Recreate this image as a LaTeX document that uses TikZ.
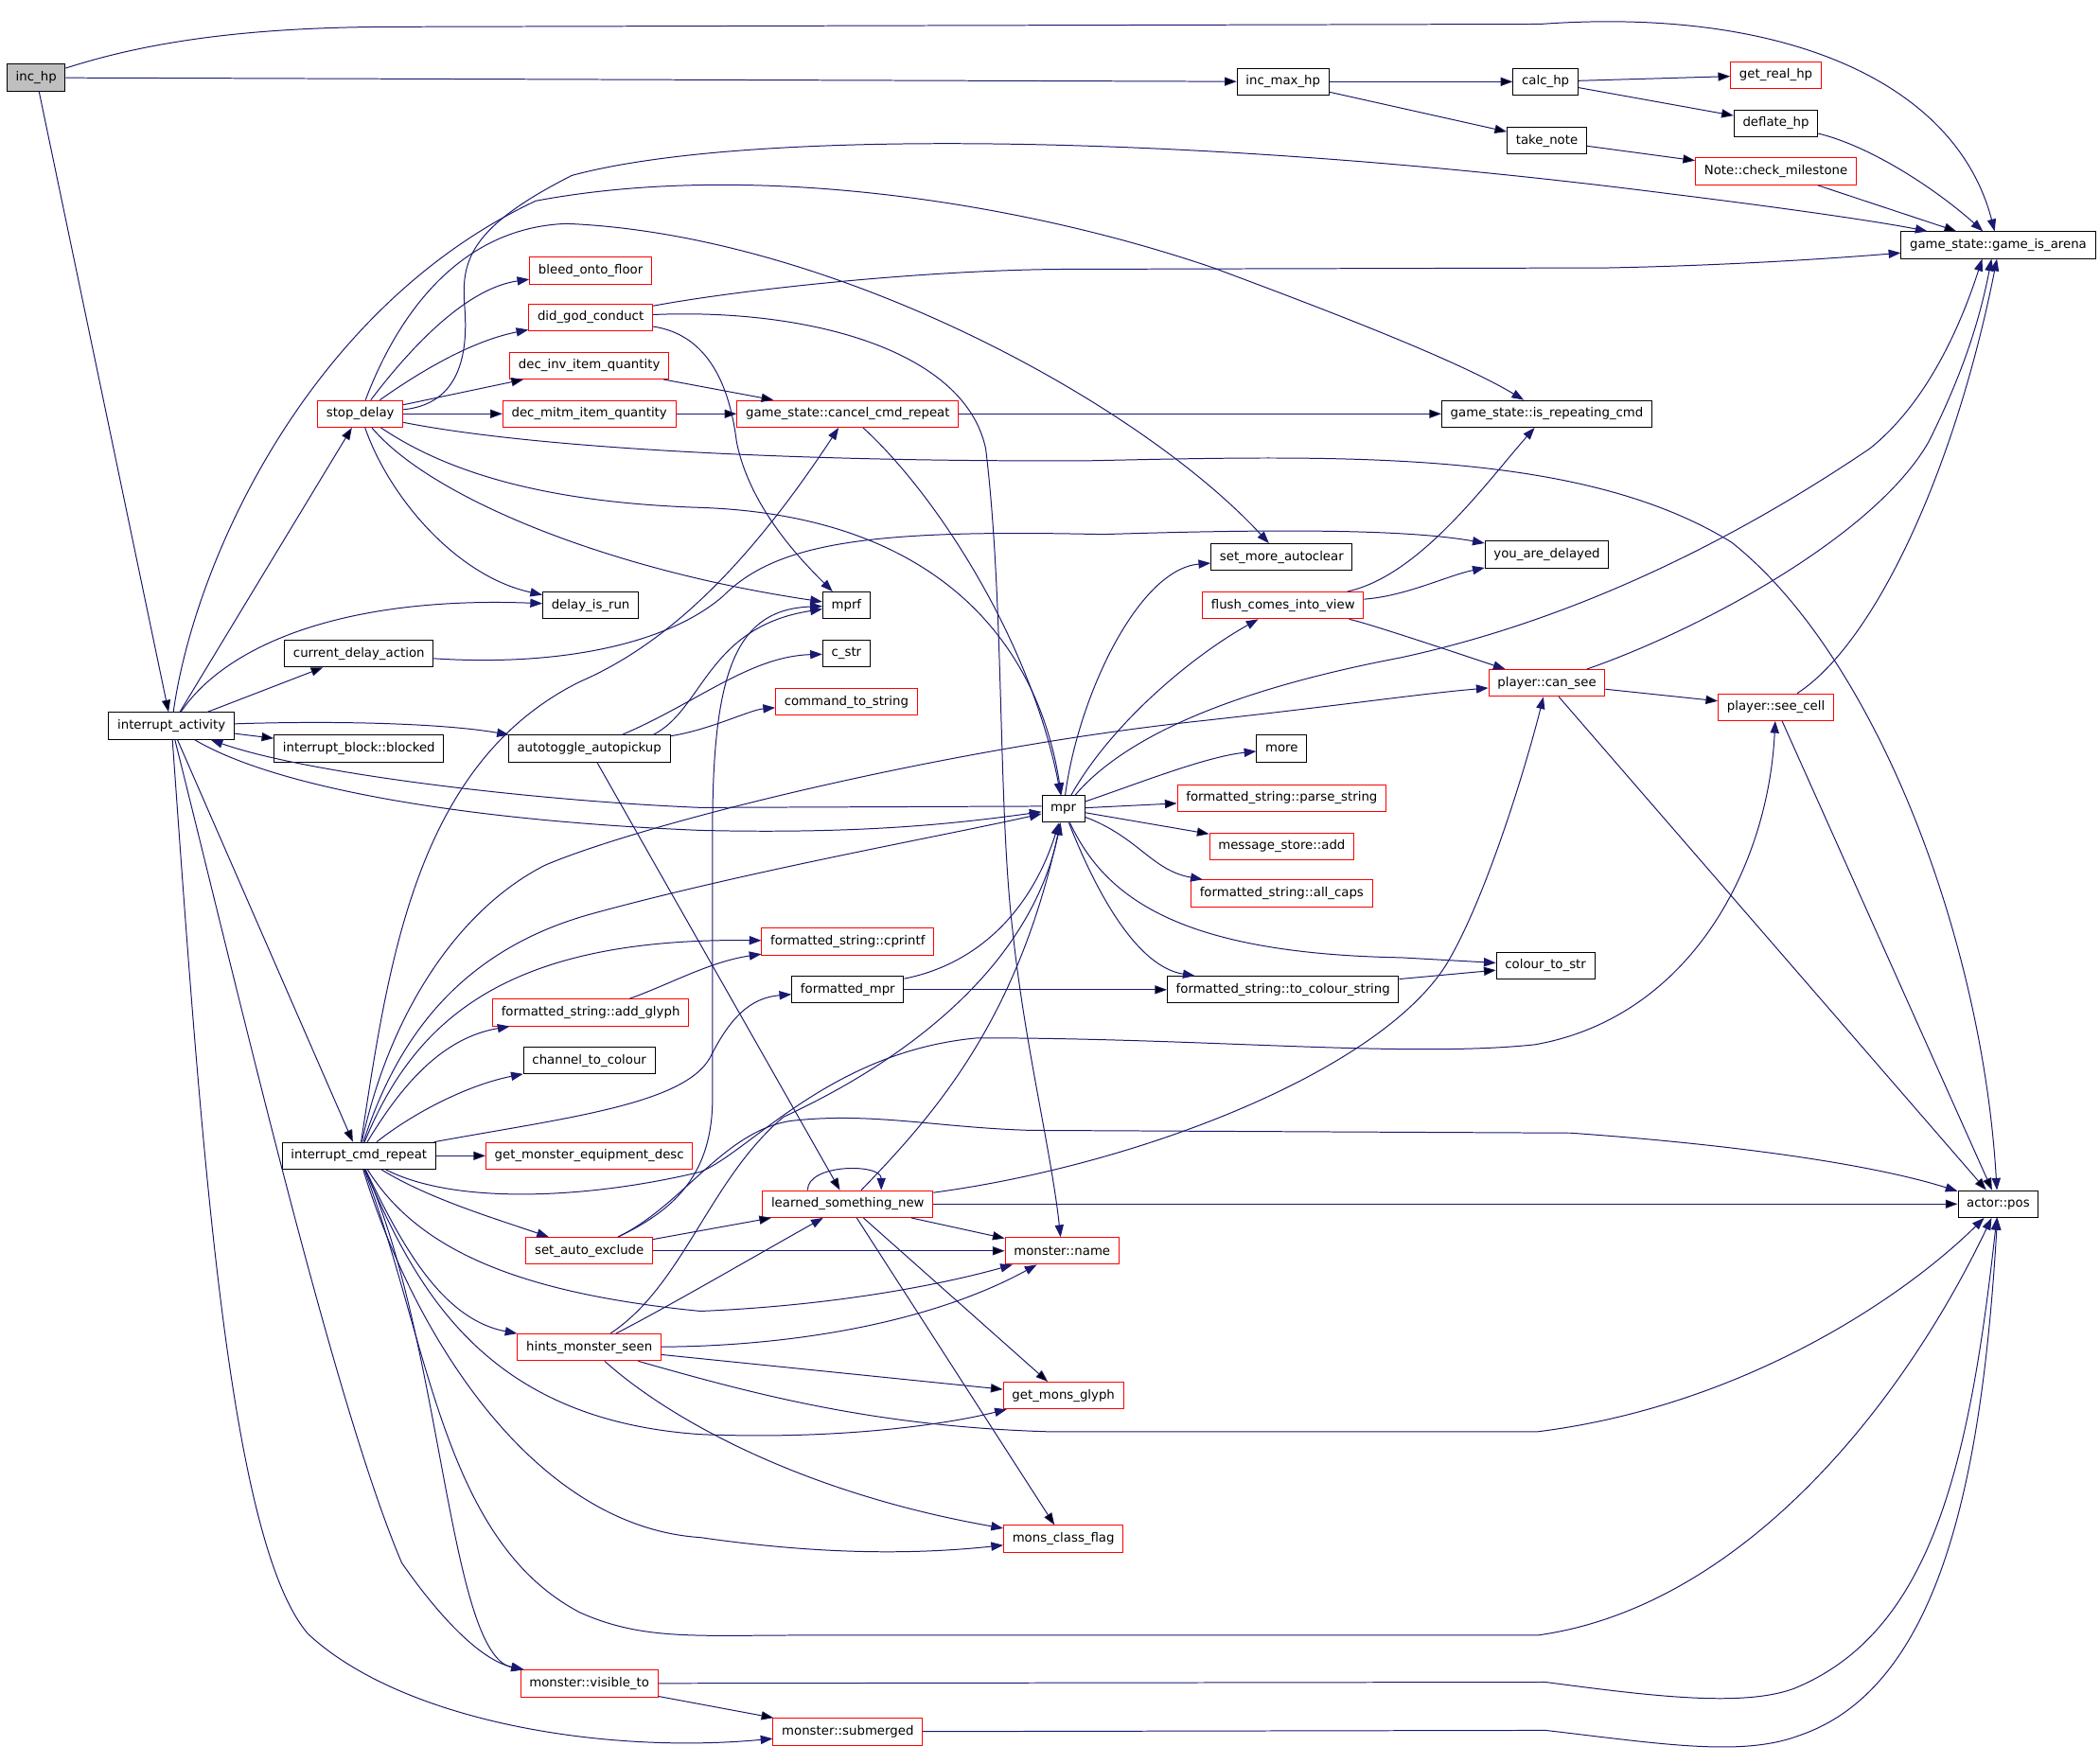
\documentclass[tikz,border=0pt]{standalone}
\usepackage{fontspec}
\setmainfont{DejaVu Sans}
\usetikzlibrary{arrows.meta}
\definecolor{callblue}{RGB}{25,25,112}

\begin{document}
\begin{tikzpicture}[x=1pt,y=-1pt,
  fn/.style={draw=black,line width=0.7pt,fill=white,font=\fontsize{9.4}{11}\selectfont,
    inner xsep=6.5pt,inner ysep=0pt,minimum height=20pt},
  fnred/.style={fn,draw=red},
  fnroot/.style={fn,fill=black!25},
  call/.style={draw=callblue,line width=0.7pt,-{Triangle[length=9pt,width=6.5pt]}}]
\useasboundingbox (0,0) rectangle (1568,1317);

\node[fnroot] (inchp) at (27,58) {inc\_hp};
\node[fn] (incmaxhp) at (958,61) {inc\_max\_hp};
\node[fn] (calchp) at (1154,61) {calc\_hp};
\node[fnred] (getrealhp) at (1326,56) {get\_real\_hp};
\node[fn] (deflatehp) at (1326,92) {deflate\_hp};
\node[fn] (takenote) at (1155,105) {take\_note};
\node[fnred] (milestone) at (1326,128) {Note::check\_milestone};
\node[fn] (arena) at (1492,183) {game\_state::game\_is\_arena};
\node[fnred] (bleed) at (441,202) {bleed\_onto\_floor};
\node[fnred] (godconduct) at (441,237) {did\_god\_conduct};
\node[fnred] (decinv) at (440,273) {dec\_inv\_item\_quantity};
\node[fnred] (stopdelay) at (269,309) {stop\_delay};
\node[fnred] (decmitm) at (440,309) {dec\_mitm\_item\_quantity};
\node[fnred] (cancelcmd) at (633,309) {game\_state::cancel\_cmd\_repeat};
\node[fn] (isrepeating) at (1155,309) {game\_state::is\_repeating\_cmd};
\node[fn] (autoclear) at (957,416) {set\_more\_autoclear};
\node[fn] (delayed) at (1155,414) {you\_are\_delayed};
\node[fn] (delayisrun) at (441,452) {delay\_is\_run};
\node[fn] (mprf) at (632,452) {mprf};
\node[fnred] (flush) at (958,452) {flush\_comes\_into\_view};
\node[fn] (curdelay) at (268,488) {current\_delay\_action};
\node[fn] (cstr) at (632,488) {c\_str};
\node[fnred] (cansee) at (1155,510) {player::can\_see};
\node[fnred] (seecell) at (1326,528) {player::see\_cell};
\node[fnred] (cmdtostr) at (632,524) {command\_to\_string};
\node[fn] (interruptact) at (128,542) {interrupt\_activity};
\node[fn] (blocked) at (268,559) {interrupt\_block::blocked};
\node[fn] (autopickup) at (440,559) {autotoggle\_autopickup};
\node[fn] (more) at (957,559) {more};
\node[fn] (mpr) at (794,604) {mpr};
\node[fnred] (parsestr) at (957,596) {formatted\_string::parse\_string};
\node[fnred] (msgadd) at (957,632) {message\_store::add};
\node[fnred] (allcaps) at (957,667) {formatted\_string::all\_caps};
\node[fnred] (cprintf) at (633,703) {formatted\_string::cprintf};
\node[fn] (colourtostr) at (1154,721) {colour\_to\_str};
\node[fn] (fmtmpr) at (633,739) {formatted\_mpr};
\node[fn] (tocolour) at (958,739) {formatted\_string::to\_colour\_string};
\node[fnred] (addglyph) at (441,756) {formatted\_string::add\_glyph};
\node[fn] (channel) at (440,792) {channel\_to\_colour};
\node[fn] (interruptcmd) at (268,863) {interrupt\_cmd\_repeat};
\node[fnred] (equipdesc) at (440,863) {get\_monster\_equipment\_desc};
\node[fnred] (learned) at (633,899) {learned\_something\_new};
\node[fn] (actorpos) at (1492,899) {actor::pos};
\node[fnred] (autoexclude) at (440,934) {set\_auto\_exclude};
\node[fnred] (monname) at (793,934) {monster::name};
\node[fnred] (hints) at (440,1006) {hints\_monster\_seen};
\node[fnred] (monsglyph) at (794,1042) {get\_mons\_glyph};
\node[fnred] (classflag) at (794,1149) {mons\_class\_flag};
\node[fnred] (visibleto) at (440,1257) {monster::visible\_to};
\node[fnred] (submerged) at (633,1293) {monster::submerged};

\path[call]
(inchp) edge (incmaxhp)
(inchp) edge (interruptact)
(incmaxhp) edge (calchp)
(incmaxhp) edge (takenote)
(calchp) edge (getrealhp)
(calchp) edge (deflatehp)
(takenote) edge (milestone)
(milestone) edge (arena)
(interruptact) edge (stopdelay)
(interruptact) edge (curdelay)
(interruptact) edge (blocked)
(interruptact) edge (interruptcmd)
(stopdelay) edge (decinv)
(stopdelay) edge (decmitm)
(decinv) edge (cancelcmd)
(decmitm) edge (cancelcmd)
(cancelcmd) edge (isrepeating)
(mpr) edge (parsestr)
(mpr) edge (msgadd)
(cansee) edge (seecell)
(cansee) edge (actorpos)
(seecell) edge (actorpos)
(interruptcmd) edge (equipdesc)
(autopickup) edge (learned)
(learned) edge (actorpos)
(learned) edge (monname)
(learned) edge (monsglyph)
(learned) edge (classflag)
(autoexclude) edge (learned)
(autoexclude) edge (monname)
(hints) edge (monsglyph)
(visibleto) edge (submerged)
(fmtmpr) edge (tocolour)
(tocolour) edge (colourtostr);

\draw[call] (inchp) .. controls (120,28) and (200,20) .. (300,20) -- (1150,18) .. controls (1330,5) and (1460,60) .. (arena);
\draw[call] (deflatehp) .. controls (1400,110) and (1450,145) .. (arena);

\draw[call] (interruptact) .. controls (145,420) and (230,230) .. (400,150) .. controls (560,120) and (760,150) .. (906,200) .. controls (1000,235) and (1090,270) .. (isrepeating);
\draw[call] (interruptact) .. controls (170,480) and (260,445) .. (delayisrun);
\draw[call] (interruptact) .. controls (250,538) and (330,540) .. (autopickup);
\draw[call] (interruptact) .. controls (200,585) and (330,612) .. (523,620) .. controls (650,623) and (720,614) .. (mpr);
\draw[call] ([yshift=2pt]mpr.west) -- (523,603) .. controls (400,598) and (230,578) .. (interruptact);
\draw[call] (interruptact) .. controls (180,750) and (250,1050) .. (300,1167) .. controls (330,1210) and (360,1240) .. (visibleto);
\draw[call] (interruptact) .. controls (150,850) and (170,1150) .. (230,1220) .. controls (300,1285) and (450,1310) .. (submerged);

\draw[call] (stopdelay) .. controls (310,255) and (350,215) .. (bleed);
\draw[call] (stopdelay) .. controls (310,280) and (350,255) .. (godconduct);
\draw[call] (stopdelay) .. controls (340,302) and (350,270) .. (347,230) .. controls (344,195) and (350,170) .. (427,131) .. controls (560,95) and (900,100) .. (1249,145) .. controls (1330,155) and (1400,165) .. (arena);
\draw[call] (stopdelay) .. controls (295,240) and (340,170) .. (423,167) .. controls (620,175) and (850,300) .. (autoclear);
\draw[call] (stopdelay) .. controls (400,335) and (600,345) .. (813,344) .. controls (1000,340) and (1180,335) .. (1293,405) .. controls (1400,490) and (1480,700) .. ([xshift=-1pt]actorpos.north);
\draw[call] (stopdelay) .. controls (330,350) and (400,375) .. (523,379) .. controls (700,385) and (775,480) .. (mpr);
\draw[call] (stopdelay) .. controls (320,370) and (450,425) .. (mprf);
\draw[call] (stopdelay) .. controls (290,370) and (340,430) .. (delayisrun);

\draw[call] (godconduct) .. controls (560,215) and (700,201) .. (800,201) -- (1200,200) .. controls (1300,198) and (1380,192) .. (arena);
\draw[call] (godconduct) .. controls (600,230) and (720,260) .. (736,335) .. controls (750,450) and (745,600) .. (756,694) .. controls (765,780) and (785,860) .. (monname);
\draw[call] (godconduct) .. controls (530,250) and (545,290) .. (550,330) .. controls (560,380) and (600,420) .. (mprf);
\draw[call] (cancelcmd) .. controls (700,370) and (770,480) .. (mpr);

\draw[call] (interruptcmd) .. controls (290,720) and (310,570) .. (433,509) .. controls (500,480) and (560,420) .. (cancelcmd);
\draw[call] (interruptcmd) .. controls (290,760) and (340,680) .. (407,646) .. controls (480,615) and (700,560) .. (890,539) .. controls (1000,527) and (1060,518) .. (cansee);
\draw[call] (interruptcmd) .. controls (295,780) and (340,710) .. (443,682) .. controls (560,650) and (700,625) .. (mpr);
\draw[call] (interruptcmd) .. controls (310,760) and (380,700) .. (cprintf);
\draw[call] (interruptcmd) .. controls (300,810) and (330,775) .. (addglyph);
\draw[call] (interruptcmd) .. controls (310,830) and (350,810) .. (channel);
\draw[call] (interruptcmd) .. controls (420,835) and (510,825) .. (530,790) .. controls (545,760) and (560,745) .. (fmtmpr);
\draw[call] (interruptcmd) .. controls (340,900) and (440,895) .. (523,875) .. controls (560,860) and (620,785) .. (730,775) .. controls (900,775) and (1050,790) .. (1146,780) .. controls (1260,760) and (1320,650) .. (seecell);
\draw[call] (interruptcmd) .. controls (320,895) and (370,910) .. (autoexclude);
\draw[call] (interruptcmd) .. controls (300,930) and (330,985) .. (hints);
\draw[call] (interruptcmd) .. controls (310,930) and (380,965) .. (523,979) .. controls (620,975) and (700,960) .. (monname);
\draw[call] (interruptcmd) .. controls (310,960) and (360,1060) .. (523,1071) .. controls (620,1075) and (700,1065) .. (monsglyph);
\draw[call] (interruptcmd) .. controls (310,1000) and (400,1140) .. (523,1148) .. controls (620,1162) and (690,1160) .. (classflag);
\draw[call] (interruptcmd) .. controls (320,1000) and (330,1150) .. (433,1204) .. controls (480,1225) and (520,1221) .. (600,1221) -- (1148,1221) .. controls (1300,1200) and (1420,1050) .. (actorpos);
\draw[call] (interruptcmd) .. controls (330,1000) and (335,1235) .. (visibleto);

\draw[call] ([xshift=-13pt]autopickup.north east) .. controls (525,530) and (528,468) .. (mprf);
\draw[call] (autopickup) .. controls (520,525) and (560,490) .. (cstr);
\draw[call] (autopickup) .. controls (530,545) and (560,530) .. (cmdtostr);
\draw[call] (curdelay) .. controls (420,498) and (500,480) .. (540,445) .. controls (580,405) and (650,395) .. (823,399) .. controls (950,395) and (1050,395) .. (delayed);

\draw[call] (mpr) .. controls (805,520) and (850,425) .. (autoclear);
\draw[call] (mpr) .. controls (830,540) and (890,490) .. (flush);
\draw[call] (mpr) .. controls (840,550) and (920,515) .. (1046,491) .. controls (1180,462) and (1300,400) .. (1396,335) .. controls (1440,300) and (1465,240) .. ([xshift=-12pt]arena.south);
\draw[call] (mpr) .. controls (850,585) and (900,565) .. (more);
\draw[call] (mpr) .. controls (850,625) and (860,650) .. (allcaps);
\draw[call] (mpr) .. controls (825,670) and (880,712) .. (1046,715) -- (colourtostr);
\draw[call] (mpr) .. controls (820,670) and (850,722) .. (tocolour);

\draw[call] (flush) .. controls (1060,430) and (1110,360) .. (isrepeating);
\draw[call] (flush) .. controls (1050,445) and (1080,430) .. (delayed);
\draw[call] (flush) .. controls (1020,465) and (1080,485) .. (cansee);
\draw[call] (cansee) .. controls (1270,470) and (1400,400) .. (1440,330) .. controls (1465,280) and (1478,240) .. ([xshift=-5pt]arena.south);
\draw[call] (seecell) .. controls (1400,480) and (1460,350) .. ([xshift=-1pt]arena.south);

\draw[call] ([xshift=-30pt]learned.north) .. controls +(0,-20) and +(0,-20) .. ([xshift=25pt]learned.north);
\draw[call] (learned) .. controls (700,830) and (760,760) .. (mpr);
\draw[call] (learned) .. controls (850,870) and (1030,800) .. (1080,720) .. controls (1110,670) and (1140,570) .. (cansee);

\draw[call] (autoexclude) .. controls (500,905) and (532,880) .. (532,820) -- (532,620) .. controls (532,500) and (550,455) .. (mprf);
\draw[call] (autoexclude) .. controls (510,900) and (540,845) .. (590,837) .. controls (650,830) and (700,842) .. (770,844) -- (1173,846) .. controls (1300,855) and (1400,870) .. (actorpos);

\draw[call] (hints) .. controls (500,975) and (560,940) .. (learned);
\draw[call] (hints) .. controls (510,960) and (530,880) .. (585,834) .. controls (680,790) and (770,720) .. (mpr);
\draw[call] (hints) .. controls (600,1005) and (700,985) .. (monname);
\draw[call] (hints) .. controls (500,1060) and (600,1115) .. (classflag);
\draw[call] (hints) .. controls (560,1040) and (650,1065) .. (783,1069) -- (1148,1069) .. controls (1300,1050) and (1420,970) .. (actorpos);

\draw[call] (visibleto) -- (1154,1256) .. controls (1230,1266) and (1300,1275) .. (1339,1261) .. controls (1440,1220) and (1470,1100) .. (actorpos);
\draw[call] (submerged) -- (1154,1292) .. controls (1240,1302) and (1300,1312) .. (1343,1296) .. controls (1450,1260) and (1480,1100) .. (actorpos);

\draw[call] (fmtmpr) .. controls (730,720) and (770,680) .. (mpr);
\draw[call] (addglyph) .. controls (500,735) and (530,718) .. (cprintf);
\end{tikzpicture}
\end{document}
